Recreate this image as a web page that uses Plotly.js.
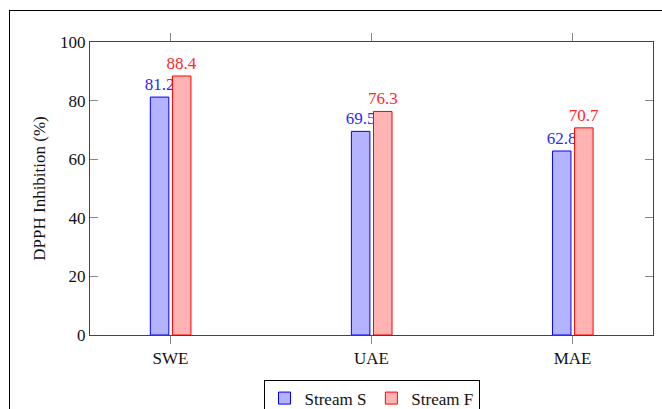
<!DOCTYPE html>
<html>
<head>
<meta charset="utf-8">
<script src="https://cdn.plot.ly/plotly-3.0.1.min.js"></script>
<style>
  html, body { margin: 0; padding: 0; background: #fff; }
  #wrap { position: relative; width: 662px; height: 409px; overflow: hidden; }
  #chart { position: absolute; left: 0; top: 0; width: 662px; height: 409px; }
  #frame { position: absolute; left: 9px; top: 10px; width: 700px; height: 500px;
           border-left: 1px solid #000; border-top: 1px solid #000; pointer-events: none; }
</style>
</head>
<body>
<div id="wrap">
  <div id="chart"></div>
  <div id="frame"></div>
</div>
<script>
const categories = ["SWE", "UAE", "MAE"];
const streamS = [81.2, 69.5, 62.8];
const streamF = [88.4, 76.3, 70.7];
const seriesNames = ["Stream S", "Stream F"];
const yTicks = [0, 20, 40, 60, 80, 100];

const fontFam = "Liberation Serif";

const traces = [
  {
    type: "bar", name: seriesNames[0], x: [0, 1, 2], y: streamS,
    width: 0.092, offset: -0.1,
    marker: { color: "rgb(179,179,255)", line: { color: "rgb(0,0,255)", width: 1 } },
    text: streamS.map(v => v.toFixed(1)), textposition: "outside",
    outsidetextfont: { color: "rgb(40,40,255)", size: 17, family: fontFam },
    constraintext: "none", cliponaxis: false, hoverinfo: "skip"
  },
  {
    type: "bar", name: seriesNames[1], x: [0, 1, 2], y: streamF,
    width: 0.092, offset: 0.01,
    marker: { color: "rgb(255,179,179)", line: { color: "rgb(255,0,0)", width: 1 } },
    text: streamF.map(v => v.toFixed(1)), textposition: "outside",
    outsidetextfont: { color: "rgb(255,40,40)", size: 17, family: fontFam },
    constraintext: "none", cliponaxis: false, hoverinfo: "skip"
  }
];

const layout = {
  width: 662, height: 409,
  margin: { l: 90, r: 9, t: 42, b: 74, autoexpand: false },
  paper_bgcolor: "rgba(0,0,0,0)", plot_bgcolor: "#fff",
  font: { family: fontFam, size: 16, color: "#000" },
  showlegend: true,
  barmode: "overlay",
  xaxis: {
    range: [-0.4, 2.4], tickvals: [0, 1, 2], ticktext: categories,
    showgrid: false, zeroline: false,
    showline: true, linecolor: "#444", linewidth: 1, mirror: "ticks",
    ticks: "outside", ticklen: 8, tickcolor: "#888", tickwidth: 1,
    tickfont: { family: fontFam, size: 17, color: "#111" }
  },
  yaxis: {
    range: [0, 100], tickvals: yTicks,
    showgrid: false, zeroline: false,
    showline: true, linecolor: "#444", linewidth: 1, mirror: "ticks",
    ticks: "inside", ticklen: 8, tickcolor: "#888", tickwidth: 1,
    tickfont: { family: fontFam, size: 17, color: "#111" },
    title: { text: "DPPH Inhibition (%)", font: { family: fontFam, size: 17, color: "#111" }, standoff: 10 }
  },
  legend: {
    orientation: "h", x: 0.5, xanchor: "center", y: -0.152, yanchor: "top",
    bordercolor: "#000", borderwidth: 1, bgcolor: "#fff",
    font: { family: fontFam, size: 17, color: "#111" },
    itemwidth: 30, traceorder: "normal"
  }
};

Plotly.newPlot("chart", traces, layout, { displayModeBar: false, staticPlot: true });
</script>
</body>
</html>
